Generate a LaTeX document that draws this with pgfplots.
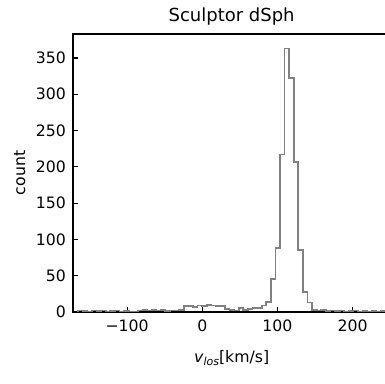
\documentclass[border=0pt]{standalone}
\usepackage{pgfplots}
\pgfplotsset{compat=1.18}
\usepackage{pgfplotstable}
\usepackage{fontspec}
\setmainfont{DejaVu Sans}
\pgfplotstableread{
x y
-165 0
-165 2
-158.9 1
-152.8 0
-146.7 2
-140.6 1
-134.5 2
-128.4 0
-122.3 1
-116.2 2
-110.1 0
-104 1
-97.9 0
-91.8 0
-85.7 2
-79.6 3
-73.5 2
-67.4 3
-61.3 2
-55.2 3
-49.1 1
-43 2
-36.9 2
-30.8 3
-24.7 8
-18.6 8
-12.5 7
-6.4 9
-0.3 8
5.8 10
11.9 9
18 8
24.1 8
30.2 4
36.3 3
42.4 2
48.5 5
54.6 3
60.7 4
66.8 5
72.9 6
79 9
85.1 14
91.2 45
97.3 88
103.4 217
109.5 363
115.6 322
121.7 207
127.8 85
133.9 27
140 13
146.1 3
152.2 2
158.3 3
164.4 1
170.5 2
176.6 1
182.7 2
188.8 0
194.9 1
201 2
207.1 0
213.2 1
219.3 0
225.4 1
231.5 0
237.6 1
243.7 1
243.7 0
}\histdata
\begin{document}
\begin{tikzpicture}
\begin{axis}[
  at={(36.5pt,36pt)}, anchor=south west,
  scale only axis, width=158.6pt, height=139pt,
  xmin=-172, xmax=250, ymin=0, ymax=383,
  axis line style={line width=0.9pt},
  tick align=inside, xtick pos=bottom, ytick pos=left,
  major tick length=2.6pt,
  tick style={line width=0.6pt, black},
  xtick={-100,0,100,200}, xticklabels={−100,0,100,200},
  ytick={0,50,100,150,200,250,300,350},
  /pgf/number format/assume math mode=true,
  tick label style={font=\fontsize{7.85}{9}\selectfont},
  xticklabel style={yshift=-0.5pt},
  label style={font=\fontsize{7.85}{9}\selectfont},
  title={Sculptor dSph},
  title style={font=\fontsize{9}{11}\selectfont, yshift=-5pt},
  xlabel={\textit{v}\raisebox{-0.35ex}{\fontsize{5.5}{6}\selectfont\textit{los}}[km/s]},
  ylabel={count},
  xlabel style={yshift=-2.5pt},
  ylabel style={yshift=-1.5pt},
]
\addplot[const plot, color=gray, line width=0.9pt] table[x=x, y=y] {\histdata};
\end{axis}
\pgfresetboundingbox
\useasboundingbox (0,0) rectangle (192.5pt,192pt);
\end{tikzpicture}
\end{document}
